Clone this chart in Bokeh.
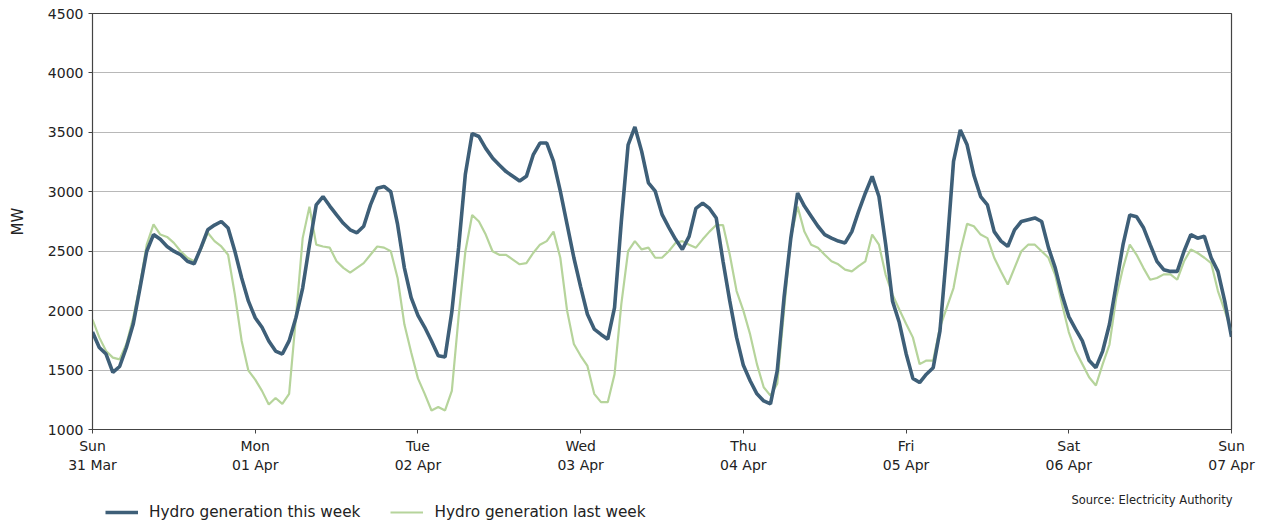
from bokeh.plotting import figure
from bokeh.models import (ColumnDataSource, FixedTicker, Legend, LegendItem, Label, Range1d)
from bokeh.layouts import column
from bokeh.embed import file_html
from bokeh.resources import INLINE

# ---- data (hourly, MW) ----
day_ticks = [0, 24, 48, 72, 96, 120, 144, 168]
day_labels = ["Sun\n31 Mar", "Mon\n01 Apr", "Tue\n02 Apr", "Wed\n03 Apr",
              "Thu\n04 Apr", "Fri\n05 Apr", "Sat\n06 Apr", "Sun\n07 Apr"]
y_ticks = [1000, 1500, 2000, 2500, 3000, 3500, 4000, 4500]

this_week = [
    1820, 1690, 1635, 1480, 1530, 1690, 1885, 2190, 2500, 2640, 2600, 2540,
    2500, 2470, 2415, 2395, 2530, 2680, 2720, 2750, 2695, 2500, 2275, 2080,
    1940, 1860, 1745, 1660, 1635, 1745, 1940, 2190, 2555, 2890, 2960, 2880,
    2805, 2735, 2680, 2655, 2710, 2890, 3030, 3045, 3000, 2725, 2360, 2110,
    1960, 1860, 1745, 1620, 1610, 1990, 2530, 3150, 3490, 3465, 3365, 3285,
    3225, 3170, 3130, 3090, 3130, 3310, 3410, 3410, 3255, 3005, 2725, 2445,
    2200, 1970, 1845, 1800, 1760, 2025, 2750, 3395, 3545, 3340, 3075, 3005,
    2810, 2700, 2600, 2515, 2625, 2860, 2905, 2860, 2780, 2415, 2080, 1775,
    1540, 1410, 1300, 1240, 1215, 1495, 2110, 2610, 2990, 2880, 2795, 2710,
    2640, 2610, 2585, 2570, 2665, 2835, 2990, 3130, 2960, 2555, 2080, 1900,
    1640, 1430, 1395, 1465, 1520, 1830, 2500, 3255, 3520, 3395, 3140, 2960,
    2890, 2665, 2585, 2540, 2680, 2750, 2765, 2780, 2750, 2530, 2360, 2135,
    1950, 1845, 1745, 1580, 1520, 1660, 1885, 2220, 2555, 2805, 2790, 2700,
    2555, 2415, 2345, 2330, 2330, 2500, 2640, 2610, 2625, 2445, 2330, 2080,
    1780,
]

last_week = [
    1925, 1775, 1660, 1605, 1590, 1720, 1940, 2220, 2555, 2725, 2640, 2620,
    2570, 2500, 2445, 2415, 2515, 2655, 2585, 2540, 2470, 2135, 1745, 1495,
    1420, 1325, 1210, 1265, 1215, 1300, 1940, 2610, 2875, 2555, 2540, 2530,
    2415, 2360, 2320, 2360, 2400, 2470, 2540, 2530, 2500, 2275, 1885, 1650,
    1430, 1300, 1160, 1190, 1160, 1325, 1950, 2500, 2805, 2750, 2640, 2500,
    2470, 2470, 2430, 2390, 2400, 2485, 2555, 2585, 2665, 2445, 2000, 1720,
    1620, 1535, 1300, 1230, 1230, 1465, 2055, 2500, 2585, 2515, 2530, 2445,
    2445, 2500, 2570, 2585, 2555, 2530, 2600, 2665, 2720, 2720, 2470, 2165,
    2000, 1800, 1550, 1355, 1285, 1385, 2000, 2610, 2875, 2665, 2555, 2530,
    2470, 2415, 2390, 2345, 2330, 2375, 2415, 2640, 2555, 2300, 2135, 2010,
    1890, 1775, 1550, 1580, 1580, 1860, 2025, 2190, 2500, 2730, 2710, 2640,
    2610, 2445, 2330, 2220, 2360, 2500, 2555, 2555, 2500, 2445, 2300, 2055,
    1820, 1660, 1550, 1440, 1370, 1550, 1715, 2110, 2360, 2555, 2470, 2360,
    2260, 2275, 2305, 2305, 2260, 2415, 2515, 2485, 2445, 2400, 2165, 2000,
    1830,
]

series_names = ["Hydro generation this week", "Hydro generation last week"]
source_note = "Source: Electricity Authority"

hours = list(range(len(this_week)))
src = ColumnDataSource(dict(h=hours, this=this_week, last=last_week))

BLUE = "#3e5f78"
GREEN = "#b6d49b"
FONT = "DejaVu Sans"
TXT = "#222222"

# ---- main chart ----
p = figure(frame_width=1139, frame_height=416,
           min_border_left=92, min_border_right=39, min_border_top=13, min_border_bottom=50,
           x_range=Range1d(0, 168), y_range=Range1d(1000, 4500),
           output_backend="svg", toolbar_location=None,
           background_fill_color="white", border_fill_color="white")

p.outline_line_color = "#444444"
p.outline_line_width = 1.2
p.xgrid.visible = False
p.ygrid.grid_line_color = "#b8b8b8"
p.ygrid.grid_line_width = 1

p.line("h", "last", source=src, line_color=GREEN, line_width=2.2)
p.line("h", "this", source=src, line_color=BLUE, line_width=3.6)

for ax in (p.xaxis[0], p.yaxis[0]):
    ax.axis_line_color = "#444444"
    ax.major_tick_line_color = "#444444"
    ax.major_tick_out = 4
    ax.major_tick_in = 0
    ax.minor_tick_line_color = None
    ax.major_label_text_font = FONT
    ax.major_label_text_font_size = "14px"
    ax.major_label_text_color = TXT

p.xaxis.ticker = FixedTicker(ticks=day_ticks)
p.xaxis.major_label_overrides = {t: l for t, l in zip(day_ticks, day_labels)}
p.xaxis.major_label_standoff = 4

p.yaxis.ticker = FixedTicker(ticks=y_ticks)
p.yaxis.major_label_standoff = 5
p.yaxis.axis_label = "MW"
p.yaxis.axis_label_text_font = FONT
p.yaxis.axis_label_text_font_size = "15px"
p.yaxis.axis_label_text_font_style = "normal"
p.yaxis.axis_label_text_color = TXT
p.yaxis.axis_label_standoff = 18

# ---- footer strip: legend + source note ----
f = figure(frame_width=1270, frame_height=46,
           min_border_left=0, min_border_right=0, min_border_top=0, min_border_bottom=0,
           x_range=Range1d(0, 168), y_range=Range1d(-2, -1),
           output_backend="svg", toolbar_location=None,
           background_fill_color="white", border_fill_color="white")
f.axis.visible = False
f.grid.visible = False
f.outline_line_color = None

# same series, outside the strip's visible range: only their legend glyphs show
f_this = f.line("h", "this", source=src, line_color=BLUE, line_width=3.6)
f_last = f.line("h", "last", source=src, line_color=GREEN, line_width=2.2)

legend = Legend(items=[LegendItem(label=series_names[0], renderers=[f_this]),
                       LegendItem(label=series_names[1], renderers=[f_last])],
                orientation="horizontal", location=(105, 4),
                label_text_font=FONT, label_text_font_size="15.3px", label_text_color=TXT,
                glyph_width=33, glyph_height=18, label_height=18, label_standoff=11, spacing=30,
                padding=0, margin=0, border_line_color=None, background_fill_alpha=0)
f.add_layout(legend, "center")

f.add_layout(Label(x=979, y=26, x_units="screen", y_units="screen",
                   text=source_note, text_align="left", text_baseline="middle",
                   text_font=FONT, text_font_size="11.5px", text_color=TXT))

layout = column(p, f, spacing=0)
open("out.html", "w").write(file_html(layout, INLINE))
